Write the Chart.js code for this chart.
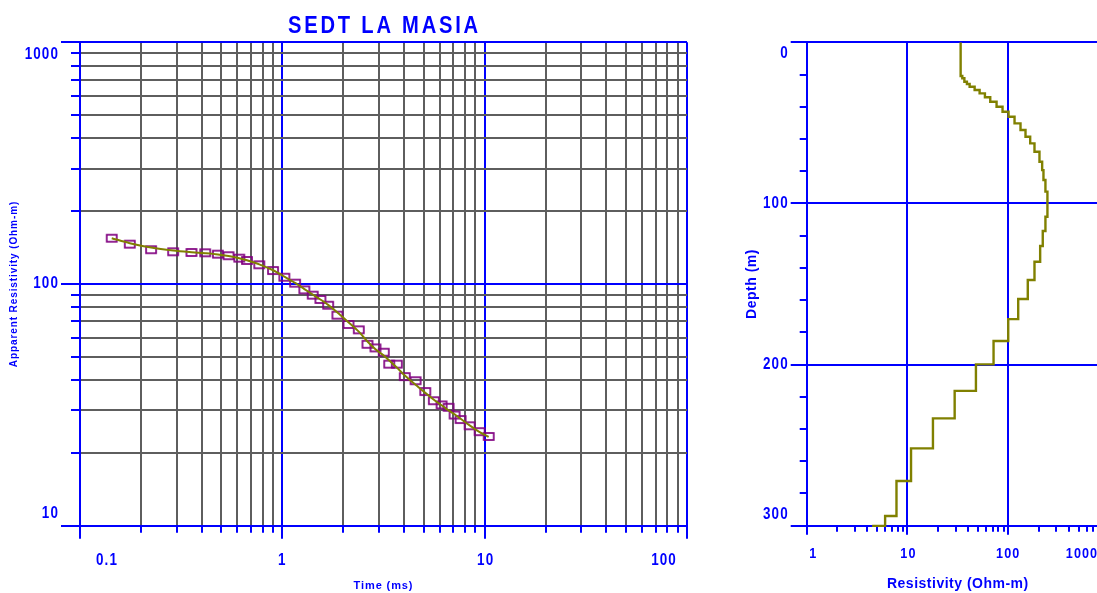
<!DOCTYPE html>
<html>
<head>
<meta charset="utf-8">
<title>SEDT LA MASIA</title>
<script src="https://cdn.jsdelivr.net/npm/chart.js@4.4.1/dist/chart.umd.min.js"></script>
<style>
  html, body { margin: 0; padding: 0; background: #fff; overflow: hidden; }
  #page { position: relative; width: 1097px; height: 593px; overflow: hidden; }
  #curveChart { position: absolute; left: 0; top: 0; }
  #modelChart { position: absolute; left: 740px; top: 0; }
</style>
</head>
<body>
<div id="page">
  <canvas id="curveChart" width="740" height="593"></canvas>
  <canvas id="modelChart" width="380" height="593"></canvas>
</div>
<script>
// sounding curve (left): time in ms, apparent resistivity in ohm-m
const timeMs = [0.1435, 0.1762, 0.2246, 0.2886, 0.3556, 0.4157, 0.4805, 0.5423, 0.6125, 0.6686, 0.7694, 0.8995, 1.023, 1.156, 1.285, 1.413, 1.542, 1.684, 1.872, 2.122, 2.387, 2.635, 2.887, 3.173, 3.375, 3.68, 4.03, 4.555, 5.086, 5.61, 6.125, 6.633, 7.103, 7.605, 8.427, 9.445, 10.47];
const measuredRho = [154.7, 146.2, 138.6, 135.9, 135.0, 134.6, 132.9, 130.9, 127.9, 125.1, 120.1, 113.7, 106.7, 100.8, 94.6, 89.9, 86.3, 81.7, 74.3, 68.0, 64.6, 56.3, 54.4, 52.2, 46.6, 46.6, 41.4, 39.8, 35.9, 32.9, 31.6, 30.9, 28.7, 27.5, 25.9, 24.5, 23.4];
const modelRho = [154.7, 147.5, 141.5, 137.5, 135.3, 134.0, 132.5, 130.5, 127.8, 125.3, 120.5, 114.0, 107.3, 101.0, 95.3, 90.5, 86.3, 82.0, 76.3, 69.5, 63.5, 57.8, 53.7, 50.6, 48.2, 45.1, 41.8, 38.3, 35.5, 33.2, 31.5, 30.0, 28.9, 27.7, 26.0, 24.4, 23.3];

// layered model (right): top of each layer in m, resistivity in ohm-m
const layerTop = [0, 20.9, 22.3, 24.5, 25.9, 27.6, 29.6, 31.7, 34.1, 36.9, 40.0, 43.1, 46.2, 50.3, 54.4, 58.6, 62.7, 67.9, 74.1, 79.3, 85.5, 92.7, 108.3, 117.1, 126.4, 136.2, 147.5, 159.3, 171.8, 185.4, 199.9, 216.3, 233.4, 252.0, 272.3, 294.0, 300.1];
const layerRes = [33.7, 35.0, 36.7, 38.9, 41.4, 46.4, 52.0, 58.7, 66.3, 76.6, 87.8, 100.7, 115.5, 132.4, 148.4, 165.1, 182.2, 204.2, 217.1, 223.7, 234.0, 244.9, 234.0, 220.1, 207.4, 182.2, 156.3, 125.6, 100.0, 71.5, 47.8, 29.4, 17.9, 10.85, 7.78, 6.0, 4.46];

// tick labels
const timeTickLabels = ["0.1", "1", "10", "100"];
const rhoTickLabels = ["10", "100", "1000"];
const depthTickLabels = ["0", "100", "200", "300"];
const resTickLabels = ["1", "10", "100", "1000"];

const BLUE = "#0000ff";
const GRAY = "#5e5e5e";
const OLIVE = "#808000";
const PURPLE = "#800080";
const SANS = "'Liberation Sans', Arial, sans-serif";
const NARROW_X = 0.84; // the original lettering is condensed

const gridSteps = [1, 2, 3, 4, 5, 6, 7, 8, 9];
function logGrid(decades, last) {
  return decades.flatMap((d) => gridSteps.map((s) => Number((s * d).toPrecision(3)))).concat(last);
}
const timeGrid = logGrid([0.1, 1, 10], 100);
const rhoGrid = logGrid([10, 100], 1000);
const resGrid = logGrid([1, 10, 100], 1000);

function isDecade(v) {
  const l = Math.log10(v);
  return Math.abs(l - Math.round(l)) < 1e-9;
}

function boxMarker() {
  const c = document.createElement("canvas");
  c.width = 14;
  c.height = 11;
  const g = c.getContext("2d");
  g.strokeStyle = PURPLE;
  g.lineWidth = 1.7;
  g.strokeRect(2, 2, 10, 7);
  return c;
}

const align2 = (p) => Math.round(p - 1) + 1;

function narrowText(ctx, text, x, y) {
  ctx.save();
  ctx.translate(x, y);
  ctx.scale(NARROW_X, 1);
  ctx.fillText(text, 0, 0);
  ctx.restore();
}

// long ticks at labelled values, tick text, chart title
const decorPlugin = {
  id: "decor",
  beforeDraw(chart, args, opts) {
    chart.ctx.letterSpacing = opts.titleSpacing || "0px";
  },
  afterDraw(chart, args, opts) {
    const { ctx, chartArea: area, scales } = chart;
    const xs = scales.x;
    const ys = scales.y;
    const xv = opts.x.labels.map(Number);
    const yv = opts.y.labels.map(Number);
    ctx.save();
    ctx.strokeStyle = BLUE;
    ctx.lineWidth = 2;
    ctx.beginPath();
    xv.forEach((v) => {
      const px = align2(xs.getPixelForValue(v));
      ctx.moveTo(px, area.bottom);
      ctx.lineTo(px, area.bottom + opts.x.longTick);
    });
    yv.forEach((v) => {
      const py = align2(ys.getPixelForValue(v));
      ctx.moveTo(area.left - opts.y.longTick, py);
      ctx.lineTo(area.left, py);
    });
    ctx.stroke();

    ctx.fillStyle = BLUE;
    ctx.letterSpacing = opts.tickSpacing;
    ctx.textBaseline = "middle";
    ctx.font = opts.x.font;
    ctx.textAlign = "center";
    opts.x.labels.forEach((text, i) => {
      narrowText(ctx, text, xs.getPixelForValue(xv[i]) + (opts.x.shift[i] || 0), area.bottom + opts.x.gap);
    });
    ctx.font = opts.y.font;
    ctx.textAlign = "right";
    opts.y.labels.forEach((text, i) => {
      narrowText(ctx, text, area.left - opts.y.gap, ys.getPixelForValue(yv[i]) + (opts.y.shift[i] || 0));
    });

    if (opts.title) {
      ctx.font = opts.title.font;
      ctx.letterSpacing = opts.title.spacing;
      ctx.textAlign = "center";
      narrowText(ctx, opts.title.text, (area.left + area.right) / 2 + 1, opts.title.y);
    }
    ctx.restore();
  },
};

function axisTitle(text, size, padding) {
  return { display: true, text, color: BLUE, font: { family: SANS, size, weight: "bold", lineHeight: 1.2 }, padding };
}

new Chart(document.getElementById("curveChart"), {
  type: "scatter",
  data: {
    datasets: [
      { label: "Model response", data: timeMs.map((t, i) => ({ x: t, y: modelRho[i] })), showLine: true, borderColor: OLIVE, borderWidth: 2, pointRadius: 0, tension: 0.3 },
      { label: "Measured", data: timeMs.map((t, i) => ({ x: t, y: measuredRho[i] })), pointStyle: boxMarker(), pointRadius: 5 },
    ],
  },
  options: {
    responsive: false,
    animation: false,
    layout: { padding: { top: 42.3, right: 53, bottom: 0, left: 0 } },
    plugins: {
      legend: { display: false },
      tooltip: { enabled: false },
      decor: {
        titleSpacing: "0.9px",
        tickSpacing: "1.3px",
        title: { text: "SEDT LA MASIA", font: `bold 24px ${SANS}`, spacing: "3.3px", y: 26 },
        x: { labels: timeTickLabels, shift: [27, 0, 1, -23], longTick: 13, gap: 34.5, font: `bold 16px ${SANS}` },
        y: { labels: rhoTickLabels, shift: [-12.5, 0, 12.7], longTick: 19, gap: 21, font: `bold 16px ${SANS}` },
      },
    },
    scales: {
      x: {
        type: "logarithmic",
        min: 0.1,
        max: 100,
        afterBuildTicks: (scale) => { scale.ticks = timeGrid.map((v) => ({ value: v })); },
        afterFit: (scale) => { scale.height = 67.3; },
        ticks: { display: false },
        grid: {
          color: (c) => (c.tick && isDecade(c.tick.value) ? BLUE : GRAY),
          lineWidth: 2,
          tickColor: BLUE,
          tickLength: 7,
          tickWidth: 2,
        },
        border: { color: BLUE, width: 2 },
        title: axisTitle("Time (ms)", 11, { top: 0, bottom: 0 }),
      },
      y: {
        type: "logarithmic",
        min: 10,
        max: 1000,
        afterBuildTicks: (scale) => { scale.ticks = rhoGrid.map((v) => ({ value: v })); },
        afterFit: (scale) => { scale.width = 80; },
        ticks: { display: false },
        grid: {
          color: (c) => (c.tick && isDecade(c.tick.value) ? BLUE : GRAY),
          lineWidth: 2,
          tickColor: BLUE,
          tickLength: 9,
          tickWidth: 2,
        },
        border: { color: BLUE, width: 2 },
        title: axisTitle("Apparent Resistivity (Ohm-m)", 10, { top: 8, bottom: 0 }),
      },
    },
  },
  plugins: [decorPlugin],
});

new Chart(document.getElementById("modelChart"), {
  type: "scatter",
  data: {
    datasets: [
      {
        label: "Layered model",
        data: layerTop.map((d, i) => ({ x: layerRes[i], y: d })),
        showLine: true,
        stepped: "after",
        borderColor: OLIVE,
        borderWidth: 2.4,
        pointRadius: 0,
        clip: { left: 0, top: 0, right: 0, bottom: 3 },
      },
    ],
  },
  options: {
    responsive: false,
    animation: false,
    layout: { padding: { top: 42.3, right: 11, bottom: 0, left: 0 } },
    plugins: {
      legend: { display: false },
      tooltip: { enabled: false },
      decor: {
        titleSpacing: "0.5px",
        tickSpacing: "1.3px",
        x: { labels: resTickLabels, shift: [6.6, 1, 0, -27], longTick: 9, gap: 28.5, font: `bold 15px ${SANS}` },
        y: { labels: depthTickLabels, shift: [11, 0, 0, -10.7], longTick: 16, gap: 18, font: `bold 16px ${SANS}` },
      },
    },
    scales: {
      x: {
        type: "logarithmic",
        min: 1,
        max: 1000,
        afterBuildTicks: (scale) => { scale.ticks = resGrid.map((v) => ({ value: v })); },
        afterFit: (scale) => { scale.height = 67.3; },
        ticks: { display: false },
        grid: {
          color: (c) => (c.tick && isDecade(c.tick.value) ? BLUE : "rgba(0,0,0,0)"),
          lineWidth: 2,
          tickColor: BLUE,
          tickLength: 6,
          tickWidth: 2,
        },
        border: { color: BLUE, width: 2 },
        title: axisTitle("Resistivity (Ohm-m)", 14, { top: 0, bottom: 0 }),
      },
      y: {
        type: "linear",
        min: 0,
        max: 300,
        reverse: true,
        afterFit: (scale) => { scale.width = 66.7; },
        ticks: { display: false, stepSize: 20 },
        grid: {
          color: (c) => (c.tick && c.tick.value % 100 === 0 ? BLUE : "rgba(0,0,0,0)"),
          lineWidth: 2,
          tickColor: BLUE,
          tickLength: 7,
          tickWidth: 2,
        },
        border: { color: BLUE, width: 2 },
        title: axisTitle("Depth (m)", 14, { top: 4, bottom: 0 }),
      },
    },
  },
  plugins: [decorPlugin],
});
</script>
</body>
</html>
